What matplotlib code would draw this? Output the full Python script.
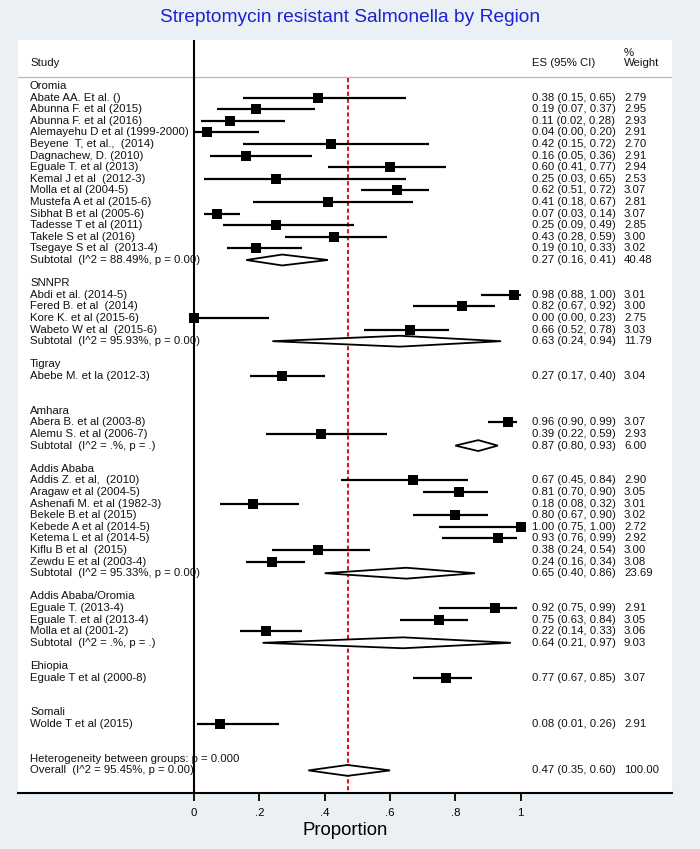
import matplotlib
matplotlib.use('Agg')
import matplotlib.pyplot as plt
import numpy as np

plt.rcParams['font.family'] = ['Liberation Sans', 'DejaVu Sans']

title = "Streptomycin resistant Salmonella by Region"
xlabel = "Proportion"
xtick_values = [0, 0.2, 0.4, 0.6, 0.8, 1.0]
xtick_labels = ["0", ".2", ".4", ".6", ".8", "1"]

regions = ["Oromia", "SNNPR", "Tigray", "Amhara", "Addis Ababa",
           "Addis Ababa/Oromia", "Ehiopia", "Somali"]

study_labels = [
    "Abate AA. Et al. ()", "Abunna F. et al (2015)", "Abunna F. et al (2016)",
    "Alemayehu D et al (1999-2000)", "Beyene  T, et al.,  (2014)", "Dagnachew, D. (2010)",
    "Eguale T. et al (2013)", "Kemal J et al  (2012-3)", "Molla et al (2004-5)",
    "Mustefa A et al (2015-6)", "Sibhat B et al (2005-6)", "Tadesse T et al (2011)",
    "Takele S et al (2016)", "Tsegaye S et al  (2013-4)",
    "Abdi et al. (2014-5)", "Fered B. et al  (2014)", "Kore K. et al (2015-6)",
    "Wabeto W et al  (2015-6)",
    "Abebe M. et la (2012-3)",
    "Abera B. et al (2003-8)", "Alemu S. et al (2006-7)",
    "Addis Z. et al,  (2010)", "Aragaw et al (2004-5)", "Ashenafi M. et al (1982-3)",
    "Bekele B.et al (2015)", "Kebede A et al (2014-5)", "Ketema L et al (2014-5)",
    "Kiflu B et al  (2015)", "Zewdu E et al (2003-4)",
    "Eguale T. (2013-4)", "Eguale T. et al (2013-4)", "Molla et al (2001-2)",
    "Eguale T et al (2000-8)",
    "Wolde T et al (2015)",
]
study_region = [0]*14 + [1]*4 + [2] + [3]*2 + [4]*8 + [5]*3 + [6] + [7]
study_es = [0.38, 0.19, 0.11, 0.04, 0.42, 0.16, 0.60, 0.25, 0.62, 0.41, 0.07, 0.25, 0.43, 0.19,
            0.98, 0.82, 0.00, 0.66,
            0.27,
            0.96, 0.39,
            0.67, 0.81, 0.18, 0.80, 1.00, 0.93, 0.38, 0.24,
            0.92, 0.75, 0.22,
            0.77,
            0.08]
study_lo = [0.15, 0.07, 0.02, 0.00, 0.15, 0.05, 0.41, 0.03, 0.51, 0.18, 0.03, 0.09, 0.28, 0.10,
            0.88, 0.67, 0.00, 0.52,
            0.17,
            0.90, 0.22,
            0.45, 0.70, 0.08, 0.67, 0.75, 0.76, 0.24, 0.16,
            0.75, 0.63, 0.14,
            0.67,
            0.01]
study_hi = [0.65, 0.37, 0.28, 0.20, 0.72, 0.36, 0.77, 0.65, 0.72, 0.67, 0.14, 0.49, 0.59, 0.33,
            1.00, 0.92, 0.23, 0.78,
            0.40,
            0.99, 0.59,
            0.84, 0.90, 0.32, 0.90, 1.00, 0.99, 0.54, 0.34,
            0.99, 0.84, 0.33,
            0.85,
            0.26]
study_weight = [2.79, 2.95, 2.93, 2.91, 2.70, 2.91, 2.94, 2.53, 3.07, 2.81, 3.07, 2.85, 3.00, 3.02,
                3.01, 3.00, 2.75, 3.03,
                3.04,
                3.07, 2.93,
                2.90, 3.05, 3.01, 3.02, 2.72, 2.92, 3.00, 3.08,
                2.91, 3.05, 3.06,
                3.07,
                2.91]

subtotal_labels = ["Subtotal  (I^2 = 88.49%, p = 0.00)", "Subtotal  (I^2 = 95.93%, p = 0.00)", None,
                   "Subtotal  (I^2 = .%, p = .)", "Subtotal  (I^2 = 95.33%, p = 0.00)",
                   "Subtotal  (I^2 = .%, p = .)", None, None]
subtotal_es = [0.27, 0.63, None, 0.87, 0.65, 0.64, None, None]
subtotal_lo = [0.16, 0.24, None, 0.80, 0.40, 0.21, None, None]
subtotal_hi = [0.41, 0.94, None, 0.93, 0.86, 0.97, None, None]
subtotal_weight = [40.48, 11.79, None, 6.00, 23.69, 9.03, None, None]

heterogeneity_label = "Heterogeneity between groups: p = 0.000"
overall_label = "Overall  (I^2 = 95.45%, p = 0.00)"
overall_es, overall_lo, overall_hi, overall_weight = 0.47, 0.35, 0.60, 100.00

# ---------------- layout ----------------
W, H = 700, 849
fig = plt.figure(figsize=(W/100, H/100), dpi=100)
fig.patch.set_facecolor('#eaf0f4')

ax_l, ax_r, ax_t, ax_b = 18, 672, 40, 793
ax = fig.add_axes([ax_l/W, 1-ax_b/H, (ax_r-ax_l)/W, (ax_b-ax_t)/H])
ax.set_facecolor('white')

x0px, x1px = 194.0, 520.7
ppu = x1px - x0px
ax.set_xlim((ax_l-x0px)/ppu, (ax_r-x0px)/ppu)
row_px, row0_px = 11.6, 86.0
ax.set_ylim((ax_b-row0_px)/row_px, (ax_t-row0_px)/row_px)

x_label = (30-x0px)/ppu
x_es = (532-x0px)/ppu
x_w = (624-x0px)/ppu
fs = 8.2

def txt(x, y, s, **kw):
    ax.text(x, y, s, fontsize=fs, va='center', ha='left', color='#111111',
            zorder=1, clip_on=False, **kw)

def es_text(e, lo, hi):
    return f"{e:.2f} ({lo:.2f}, {hi:.2f})"

base_side = 7.85  # points, for weight 3.07
diamond_h = 0.47

r = 0
for gi, reg in enumerate(regions):
    txt(x_label, r, reg)
    r += 1
    idx = [i for i, g in enumerate(study_region) if g == gi]
    for i in idx:
        txt(x_label, r, study_labels[i])
        txt(x_es, r, es_text(study_es[i], study_lo[i], study_hi[i]))
        txt(x_w, r, f"{study_weight[i]:.2f}")
        ax.plot([study_lo[i], study_hi[i]], [r, r], color='black', lw=1.6,
                solid_capstyle='butt', zorder=3)
        ax.scatter([study_es[i]], [r], marker='s', color='black',
                   s=base_side**2 * study_weight[i]/3.07, linewidths=0, zorder=4)
        r += 1
    if subtotal_labels[gi] is not None:
        txt(x_label, r, subtotal_labels[gi])
        txt(x_es, r, es_text(subtotal_es[gi], subtotal_lo[gi], subtotal_hi[gi]))
        txt(x_w, r, f"{subtotal_weight[gi]:.2f}")
        e, lo, hi = subtotal_es[gi], subtotal_lo[gi], subtotal_hi[gi]
        ax.fill([lo, e, hi, e], [r, r-diamond_h, r, r+diamond_h], facecolor='white',
                edgecolor='black', lw=1.3, zorder=4)
    r += 2

txt(x_label, r, heterogeneity_label)
r += 1
txt(x_label, r, overall_label)
txt(x_es, r, es_text(overall_es, overall_lo, overall_hi))
txt(x_w, r, f"{overall_weight:.2f}")
ax.fill([overall_lo, overall_es, overall_hi, overall_es],
        [r, r-diamond_h, r, r+diamond_h], facecolor='white',
        edgecolor='black', lw=1.3, zorder=4)

# header
hdr = -1.96
txt(x_label, hdr, "Study")
txt(x_es, hdr, "ES (95% CI)")
txt(x_w, hdr, "Weight")
txt(x_w, -2.87, "%")
header_line = -0.8
ax.axhline(header_line, color='#bdbdbd', lw=1.0, zorder=2)

# reference lines
ax.axvline(0, color='black', lw=1.5, zorder=5)
ylo = ax.get_ylim()[0]
ax.vlines(overall_es, header_line + 0.1, ylo, colors='#e0141e', lw=1.5,
          linestyles=(0, (2.0, 1.3)), zorder=2)

# axes styling
for s in ['top', 'left', 'right']:
    ax.spines[s].set_visible(False)
ax.spines['bottom'].set_linewidth(1.5)
ax.set_yticks([])
ax.set_xticks(xtick_values)
ax.set_xticklabels(xtick_labels, fontsize=fs)
ax.tick_params(axis='x', length=5.8, width=1.3, pad=5, direction='out')
ax.set_xlabel(xlabel, fontsize=13.4, labelpad=3)

fig.text(0.5, 1-18/H, title, ha='center', va='center', fontsize=13.8, color='#1a22d2')

fig.savefig('out.png', dpi=100, facecolor=fig.get_facecolor())
